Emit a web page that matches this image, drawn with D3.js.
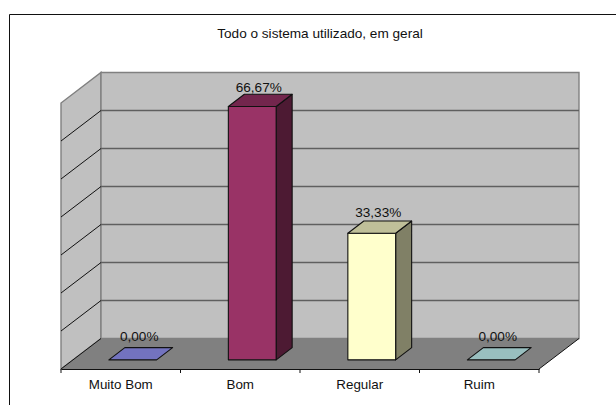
<!DOCTYPE html>
<html>
<head>
<meta charset="utf-8">
<script src="https://cdn.jsdelivr.net/npm/d3@7"></script>
<style>
html,body{margin:0;padding:0;background:#fff}
svg{display:block}
text{font-family:"Liberation Sans",Arial,sans-serif;fill:#111}
</style>
</head>
<body>
<svg id="chart" width="616" height="405"></svg>
<script>
const chartTitle = "Todo o sistema utilizado, em geral";
const categories = ["Muito Bom", "Bom", "Regular", "Ruim"];
const values = [0, 66.67, 33.33, 0];
const valueLabels = ["0,00%", "66,67%", "33,33%", "0,00%"];
const gridValues = [0, 10, 20, 30, 40, 50, 60, 70];
const frontColors = ["#9999FF", "#993366", "#FFFFCC", "#CCFFFF"];

const svg = d3.select("#chart");

// Oblique projection: category along x, percentage up, depth into the box (0 front, 1 back).
const x = d3.scaleBand().domain(categories).range([61, 539]);
const y = d3.scaleLinear().domain([0, 70]).range([369, 103]);
const depthX = d3.scaleLinear().domain([0, 1]).range([0, 40]);
const depthY = d3.scaleLinear().domain([0, 1]).range([0, -30.5]);
const project = (px, v, d) => [px + depthX(d), y(v) + depthY(d)];
const line = d3.line();
const poly = pts => line(pts) + "Z";

const [x0, x1] = x.range();
const vMax = d3.max(gridValues);

// Chart frame: top and left edges only
svg.append("path").attr("d", "M9.5,405V14.5H616")
  .attr("fill", "none").attr("stroke", "#111").attr("stroke-width", 1);

svg.append("text").attr("x", 320).attr("y", 38).attr("text-anchor", "middle")
  .attr("font-size", 13.6).text(chartTitle);

// Walls and floor
svg.append("path").attr("fill", "#C0C0C0").attr("stroke", "#808080").attr("stroke-width", 1.4)
  .attr("d", poly([project(x0, 0, 0), project(x0, vMax, 0), project(x0, vMax, 1), project(x0, 0, 1)]));
svg.append("path").attr("fill", "#C0C0C0").attr("stroke", "#808080").attr("stroke-width", 1.4)
  .attr("d", poly([project(x0, 0, 1), project(x0, vMax, 1), project(x1, vMax, 1), project(x1, 0, 1)]));
svg.append("path").attr("fill", "#808080")
  .attr("d", poly([project(x0, 0, 0), project(x1, 0, 0), project(x1, 0, 1), project(x0, 0, 1)]));

// Gridlines across the back wall and down the side wall
const inner = gridValues.slice(1, -1);
svg.selectAll(".grid-back").data(inner).join("path").attr("class", "grid-back")
  .attr("fill", "none").attr("stroke", "#5f5f5f").attr("stroke-width", 1.3)
  .attr("d", v => line([project(x0, v, 1), project(x1, v, 1)]));
svg.selectAll(".grid-side").data(inner).join("path").attr("class", "grid-side")
  .attr("fill", "none").attr("stroke", "#111").attr("stroke-width", 1)
  .attr("d", v => line([project(x0, v, 0), project(x0, v, 1)]));

// Floor edges and the category axis
svg.append("path").attr("fill", "none").attr("stroke", "#111").attr("stroke-width", 1)
  .attr("d", line([project(x0, 0, 1), project(x0, 0, 0)]));
svg.append("path").attr("fill", "none").attr("stroke", "#111").attr("stroke-width", 1)
  .attr("d", line([project(x1, 0, 1), project(x1, 0, 0)]));
const axis = d3.axisBottom(x).tickSizeOuter(0).tickSize(0).tickPadding(10);
const axisG = svg.append("g").attr("transform", `translate(0,${y(0)})`).call(axis);
axisG.select(".domain").attr("stroke", "#111").attr("stroke-width", 1.2);
axisG.selectAll("text").attr("font-size", 13.4).attr("font-family", '"Liberation Sans",Arial,sans-serif').attr("fill", "#111");
axisG.selectAll(".edge").data(d3.range(categories.length + 1)).join("line").attr("class", "edge")
  .attr("x1", i => x0 + i * x.bandwidth()).attr("x2", i => x0 + i * x.bandwidth())
  .attr("y1", 0).attr("y2", 4).attr("stroke", "#111");

// 3D columns: each sits between 30% and 70% of the floor depth
const dFront = 0.3, dBack = 0.7;
const barInset = x.bandwidth() * 0.3;
const shade = (c, k) => { const r = d3.rgb(c); return d3.rgb(r.r * k, r.g * k, r.b * k).formatHex(); };

const bars = svg.selectAll(".bar").data(categories.map((c, i) => ({
  c, v: values[i], label: valueLabels[i], color: frontColors[i]
}))).join("g").attr("class", "bar")
  .attr("stroke", "#111").attr("stroke-width", 1.1).attr("stroke-linejoin", "round");

const left = d => x(d.c) + barInset;
const right = d => x(d.c) + x.bandwidth() - barInset;

bars.filter(d => d.v > 0).append("path").attr("fill", d => shade(d.color, 0.5))
  .attr("d", d => poly([project(right(d), 0, dFront), project(right(d), d.v, dFront), project(right(d), d.v, dBack), project(right(d), 0, dBack)]));
bars.filter(d => d.v > 0).append("path").attr("fill", d => d.color)
  .attr("d", d => poly([project(left(d), 0, dFront), project(left(d), d.v, dFront), project(right(d), d.v, dFront), project(right(d), 0, dFront)]));
bars.append("path").attr("fill", d => shade(d.color, 0.75))
  .attr("d", d => poly([project(left(d), d.v, dFront), project(right(d), d.v, dFront), project(right(d), d.v, dBack), project(left(d), d.v, dBack)]));

// Value labels sit just above the column tops
const labelRise = d3.scaleLinear().domain([0, 66.67]).range([6.5, 2]);
svg.selectAll(".value").data(categories.map((c, i) => ({ c, v: values[i], label: valueLabels[i] })))
  .join("text").attr("class", "value").attr("text-anchor", "middle").attr("font-size", 13.6)
  .attr("x", d => project(x(d.c) + x.bandwidth() / 2, d.v, 0.5)[0] - 1.5)
  .attr("y", d => project(0, d.v, dBack)[1] - labelRise(d.v))
  .text(d => d.label);
</script>
</body>
</html>
